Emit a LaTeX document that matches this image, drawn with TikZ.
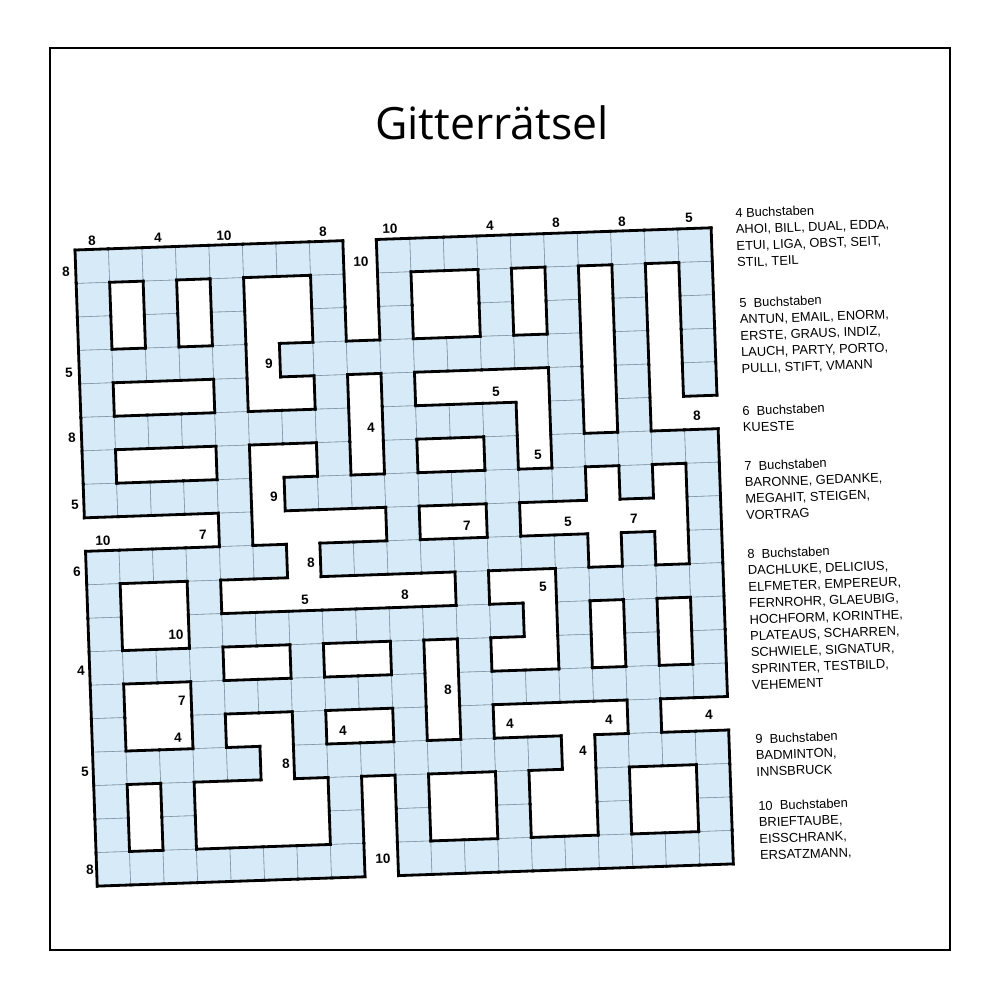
\documentclass[tikz,border=0pt]{standalone}
\usepackage{fontspec}
\setmainfont{Liberation Sans}
\newfontfamily\titlefont{Open Sans}
\definecolor{cellblue}{RGB}{214,234,248}
\definecolor{cellgray}{RGB}{130,150,165}
\tikzset{
  cellfill/.style={fill=cellblue,draw=cellgray,line width=0.5pt},
  wall/.style={line width=2.4pt,line cap=rect},
  num/.style={font=\fontsize{11.5}{11.5}\selectfont\bfseries,inner sep=0pt,rotate=2},
  wordlist/.style={anchor=north west,align=left,inner sep=0pt,rotate=2,
    font=\fontsize{11}{14}\selectfont}
}
\begin{document}
\begin{tikzpicture}[x=0.3mm,y=-0.3mm]
  \useasboundingbox (0,0) rectangle (1000,1000);
  \draw[line width=2.4pt] (50,48) rectangle (950,950);
  \node[font=\titlefont\fontsize{38}{38}\selectfont] (title) at (492,123) {Gitterrätsel};
  % grid
  \begin{scope}[shift={(75,250)},rotate=2,x=10.05mm,y=-10.05mm]
    \foreach \r/\cols in {
      0/{0,1,2,3,4,5,6,7,9,10,11,12,13,14,15,16,17,18},
      1/{0,2,4,7,9,12,14,16,18},
      2/{0,2,4,7,9,12,14,16,18},
      3/{0,1,2,3,4,6,7,8,9,10,11,12,13,14,16,18},
      4/{0,4,7,9,14,16,18},
      5/{0,1,2,3,4,5,6,7,9,10,11,12,14,16},
      6/{0,4,7,9,12,14,15,16,17,18},
      7/{0,1,2,3,4,6,7,8,9,10,11,12,13,14,16,18},
      8/{4,9,12,18},
      9/{0,1,2,3,4,5,7,8,9,10,11,12,13,14,16,18},
      10/{0,3,11,14,15,16,17,18},
      11/{0,3,4,5,6,7,8,9,10,11,12,14,16,18},
      12/{0,1,2,3,6,9,11,14,16,18},
      13/{0,3,4,5,6,7,8,9,11,12,13,14,15,16,17,18},
      14/{0,3,6,9,11,16},
      15/{0,1,2,3,4,6,7,8,9,10,11,12,13,15,16,17,18},
      16/{0,2,7,9,12,15,18},
      17/{0,2,7,9,12,15,18},
      18/{0,1,2,3,4,5,6,7,9,10,11,12,13,14,15,16,17,18}}{
      \foreach \c in \cols {
        \expandafter\gdef\csname cl\r x\c\endcsname{1}
        \draw[cellfill] (\c,\r) rectangle ++(1,1);
      }
    }
    % thick walls where a filled cell meets a white one
    \foreach \r in {0,...,18}{
      \foreach \c in {0,...,18}{
        \ifcsname cl\r x\c\endcsname
          \ifcsname cl\the\numexpr\r-1\relax x\c\endcsname\else
            \draw[wall] (\c,\r) -- ++(1,0);\fi
          \ifcsname cl\the\numexpr\r+1\relax x\c\endcsname\else
            \draw[wall] (\c,\r+1) -- ++(1,0);\fi
          \ifcsname cl\r x\the\numexpr\c-1\relax\endcsname\else
            \draw[wall] (\c,\r) -- ++(0,1);\fi
          \ifcsname cl\r x\the\numexpr\c+1\relax\endcsname\else
            \draw[wall] (\c+1,\r) -- ++(0,1);\fi
        \fi
      }
    }
  \end{scope}
  % clue lengths
  \foreach \x/\y/\t [count=\i] in {92/241/8,158/238/4,224/236/10,323/232/8,
      390/229/10,490/226/4,556/223/8,622/222/8,689/218/5,
      66/272/8,361/262/10,69/373/5,72/438/8,75/505/5,269/364/9,371/428/4,
      496/392/5,538/455/5,697/416/8,274/497/9,103/541/10,203/535/7,
      467/526/7,568/522/5,634/519/7,77/572/6,311/563/8,305/600/5,
      405/595/8,543/587/5,176/635/10,81/671/4,182/701/7,178/738/4,
      448/690/8,343/731/4,510/724/4,609/720/4,709/715/4,583/751/4,
      85/772/5,286/764/8,90/870/8,383/859/10}
    \node[num] (n\i) at (\x,\y) {\t};
  % word lists
  \node[wordlist] (wl4) at (735,208) {4 Buchstaben\\AHOI, BILL, DUAL, EDDA,\\ETUI, LIGA, OBST, SEIT,\\STIL, TEIL};
  \node[wordlist] (wl5) at (739,298) {5\ \ Buchstaben\\ANTUN, EMAIL, ENORM,\\ERSTE, GRAUS, INDIZ,\\LAUCH, PARTY, PORTO,\\PULLI, STIFT, VMANN};
  \node[wordlist] (wl6) at (742,406) {6\ \ Buchstaben\\KUESTE};
  \node[wordlist] (wl7) at (744,461) {7\ \ Buchstaben\\BARONNE, GEDANKE,\\MEGAHIT, STEIGEN,\\VORTRAG};
  \node[wordlist] (wl8) at (747,549) {8\ \ Buchstaben\\DACHLUKE, DELICIUS,\\ELFMETER, EMPEREUR,\\FERNROHR, GLAEUBIG,\\HOCHFORM, KORINTHE,\\PLATEAUS, SCHARREN,\\SCHWIELE, SIGNATUR,\\SPRINTER, TESTBILD,\\VEHEMENT};
  \node[wordlist] (wl9) at (755,734) {9\ \ Buchstaben\\BADMINTON,\\INNSBRUCK};
  \node[wordlist] (wl10) at (758,801) {10\ \ Buchstaben\\BRIEFTAUBE,\\EISSCHRANK,\\ERSATZMANN,};
\end{tikzpicture}
\end{document}
